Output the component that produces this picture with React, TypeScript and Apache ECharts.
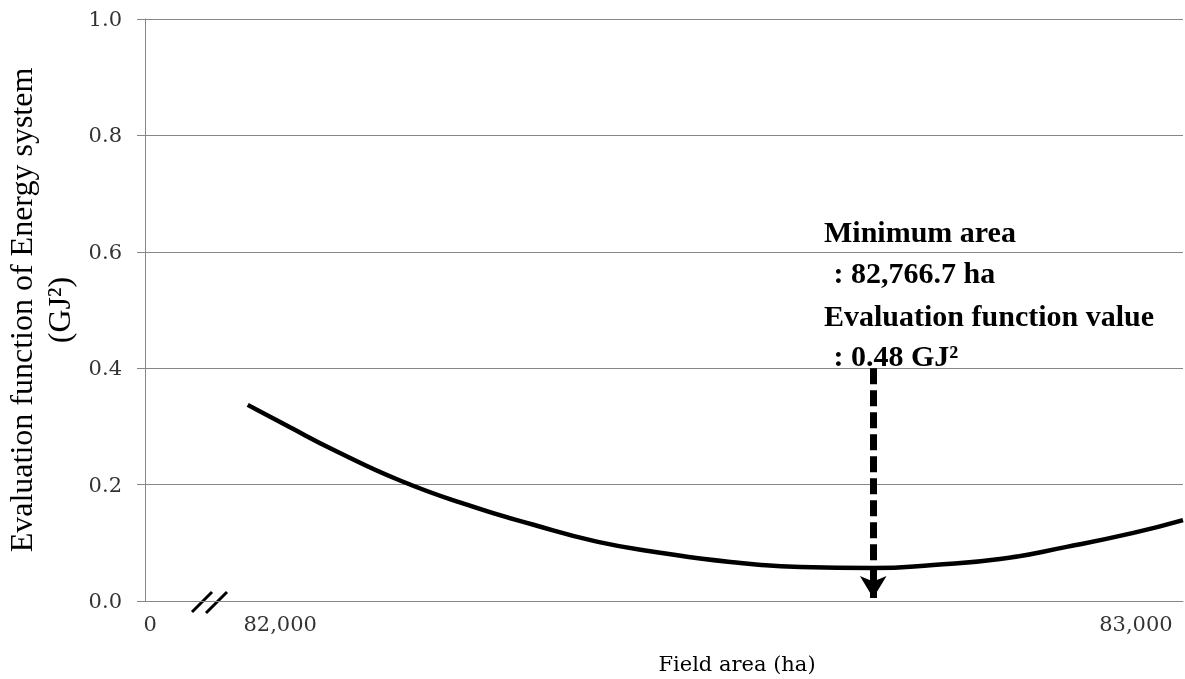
import React, { useEffect, useRef } from "react";
import * as echarts from "echarts";

const areaHa = [81962, 82012, 82062, 82140, 82219, 82296, 82370, 82444, 82526, 82608, 82693, 82763, 82841, 82919, 82997, 83055];
const evalValue = [0.337, 0.298, 0.26, 0.207, 0.165, 0.131, 0.102, 0.083, 0.067, 0.0585, 0.0568, 0.062, 0.072, 0.093, 0.117, 0.139];
const xTickValues = [81848, 82000, 83000];
const xTickLabels = ["0", "82,000", "83,000"];
const minimumArea = 82693;
const arrowTop = 0.4;
const annotationLines = ["Minimum area", " : 82,766.7 ha", "Evaluation function value", " : 0.48 GJ²"];

const SERIF = "'Liberation Serif', 'DejaVu Serif', serif";
const WIDE_SERIF = "'DejaVu Serif', 'Liberation Serif', serif";

export default function App() {
  const ref = useRef<HTMLDivElement>(null);
  useEffect(() => {
    if (!ref.current) return;
    const chart = echarts.init(ref.current, null, { renderer: "svg" });
    const annY = [231, 272, 315, 355];
    const annX = [824, 826, 824, 826];
    chart.setOption({
      animation: false,
      grid: { left: 145, right: 2, top: 19, bottom: 78, containLabel: false, outerBoundsMode: "none" },
      xAxis: {
        type: "value",
        min: 81842,
        max: 83055,
        name: "Field area (ha)",
        nameLocation: "middle",
        nameGap: 52,
        nameTextStyle: { fontFamily: WIDE_SERIF, fontSize: 21, color: "#000", padding: [0, 0, 0, 146] },
        axisLine: { show: true, lineStyle: { color: "#868686", width: 1 } },
        axisTick: { show: false },
        splitLine: { show: false },
        axisLabel: {
          customValues: xTickValues,
          formatter: (v: number) => {
            const i = xTickValues.indexOf(v);
            return i >= 0 ? xTickLabels[i] : "";
          },
          fontFamily: WIDE_SERIF,
          fontSize: 21,
          color: "#333",
          margin: 12,
        },
      },
      yAxis: {
        type: "value",
        min: 0,
        max: 1,
        interval: 0.2,
        name: "Evaluation function of Energy system\n(GJ²)",
        nameLocation: "middle",
        nameRotate: 90,
        nameGap: 58,
        nameTextStyle: { fontFamily: SERIF, fontSize: 32, color: "#000", lineHeight: 38 },
        axisLine: { show: true, lineStyle: { color: "#868686", width: 1 } },
        axisTick: { show: true, length: 8, lineStyle: { color: "#868686" } },
        splitLine: { show: true, lineStyle: { color: "#868686", width: 1 } },
        axisLabel: {
          formatter: (v: number) => v.toFixed(1),
          fontFamily: WIDE_SERIF,
          fontSize: 21,
          color: "#333",
          margin: 23,
        },
      },
      series: [
        {
          type: "line",
          data: areaHa.map((x, i) => [x, evalValue[i]]),
          smooth: true,
          symbol: "none",
          lineStyle: { color: "#000", width: 4.5 },
          markLine: {
            silent: true,
            symbol: ["none", "arrow"],
            symbolSize: [20, 22],
            label: { show: false },
            lineStyle: { color: "#000", width: 7, type: [16, 6] },
            data: [[{ coord: [minimumArea, arrowTop] }, { coord: [minimumArea, 0.005] }]],
          },
        },
      ],
      graphic: [
        ...annotationLines.map((t, i) => ({
          type: "text",
          x: annX[i],
          y: annY[i],
          style: {
            text: t,
            fontFamily: SERIF,
            fontSize: 30,
            fontWeight: "bold",
            fill: "#000",
            verticalAlign: "middle",
            align: "left",
          },
        })),
        { type: "line", shape: { x1: 192, y1: 612, x2: 212, y2: 592 }, style: { stroke: "#000", lineWidth: 3 } },
        { type: "line", shape: { x1: 206, y1: 613, x2: 227, y2: 592 }, style: { stroke: "#000", lineWidth: 3 } },
      ],
    });
    return () => chart.dispose();
  }, []);
  return <div ref={ref} style={{ position: "fixed", left: 0, top: 0, width: 1185, height: 679 }} />;
}
